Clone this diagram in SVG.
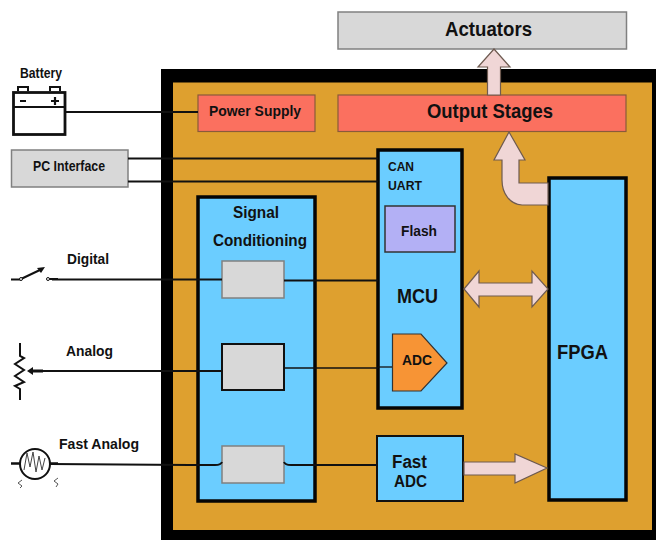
<svg xmlns="http://www.w3.org/2000/svg" width="656" height="540" viewBox="0 0 656 540">
<style>
text{font-family:"Liberation Sans",Arial,sans-serif;font-weight:bold;fill:#111;text-anchor:middle}
.w{fill:none;stroke:#111;stroke-width:2}
.gb{fill:#d8d8d8;stroke:#808080;stroke-width:1.5}
.blue{fill:#6bcdff;stroke:#050505;stroke-width:3.5}
.red{fill:#fb705f;stroke:#8a5a3a;stroke-width:1.2}
.ar{fill:#f0d6d6;stroke:#6e5a50;stroke-width:1.2}
</style>
<rect width="656" height="540" fill="#fff"/>
<g id="board"><rect x="161" y="69" width="495" height="471" fill="#000"/><rect x="173" y="82.500" width="479" height="447.500" fill="#dea02f"/></g>
<g id="actuators"><rect class="gb" x="338" y="12" width="288.500" height="37"/><text x="488.500" y="36" font-size="20.500" textLength="87" lengthAdjust="spacingAndGlyphs">Actuators</text></g>
<g id="output-stages"><rect class="red" x="338" y="95" width="288" height="36.500"/><text x="490" y="118" font-size="20" textLength="126" lengthAdjust="spacingAndGlyphs">Output Stages</text></g>
<g id="power-supply"><rect class="red" x="198" y="95" width="117" height="36.500"/><text x="255" y="116" font-size="14.500" textLength="92" lengthAdjust="spacingAndGlyphs">Power Supply</text></g>
<g id="battery">
<text x="41" y="78" font-size="14" textLength="42" lengthAdjust="spacingAndGlyphs">Battery</text>
<path d="M18 91V87H28V91M50 91V87H60V91" fill="#fff" stroke="#111" stroke-width="2"/>
<rect x="13.500" y="92.500" width="51.500" height="42" fill="#fff" stroke="#111" stroke-width="2.800"/>
<path d="M13.500 107H65" stroke="#111" stroke-width="2"/>
<path d="M20 101H26M51 101H59M55 97V105" stroke="#111" stroke-width="2.200" fill="none"/>
</g>
<g id="pc-interface"><rect class="gb" x="11.500" y="150" width="116.500" height="37"/><text x="69" y="171" font-size="14.500" textLength="72" lengthAdjust="spacingAndGlyphs">PC Interface</text></g>
<g id="digital-switch">
<text x="88" y="264" font-size="15" textLength="42" lengthAdjust="spacingAndGlyphs">Digital</text>
<path d="M11 279.500H21M21 279L42 269M48 279H58" stroke="#111" stroke-width="2" fill="none"/>
<path d="M37 268L45 267L41 273Z" fill="#111"/>
<circle cx="21" cy="279" r="1.500" fill="#fff" stroke="#111"/><circle cx="48" cy="279" r="1.500" fill="#fff" stroke="#111"/>
</g>
<g id="analog-pot">
<text x="89.500" y="356" font-size="15" textLength="47" lengthAdjust="spacingAndGlyphs">Analog</text>
<path d="M20 343V356L24 358L15 364L24 370L15 376L24 382L15 386L20 389V400" fill="none" stroke="#111" stroke-width="2"/>
<path d="M27 371L33 367V375Z" fill="#111"/><path d="M33 371H43" stroke="#111" stroke-width="3"/>
</g>
<g id="fast-analog-source">
<text x="99" y="449" font-size="15" textLength="80" lengthAdjust="spacingAndGlyphs">Fast Analog</text>
<circle cx="35" cy="464" r="15" fill="#fff" stroke="#111" stroke-width="2"/>
<path d="M11 463.500H20M50 463.500H58" stroke="#111" stroke-width="2.500" fill="none"/>
<path d="M24 470L27 453L30 467L33 452L36 472L39 456L42 470L45 458" fill="none" stroke="#444" stroke-width="1"/>
<path d="M22 480L18 483L22 486L20 488M58 478L54 481L58 484L56 487" fill="none" stroke="#555" stroke-width="1"/>
</g>
<g id="signal-conditioning"><rect class="blue" x="198" y="197" width="117" height="304"/><text x="256" y="218" font-size="16" textLength="46" lengthAdjust="spacingAndGlyphs">Signal</text><text x="260" y="246" font-size="16" textLength="94" lengthAdjust="spacingAndGlyphs">Conditioning</text></g>
<g id="mcu"><rect class="blue" x="378" y="150" width="84" height="258"/>
<text x="401" y="171" font-size="13" textLength="26" lengthAdjust="spacingAndGlyphs">CAN</text><text x="405" y="190" font-size="13" textLength="34" lengthAdjust="spacingAndGlyphs">UART</text>
<text x="417.500" y="303" font-size="20.500" textLength="41" lengthAdjust="spacingAndGlyphs">MCU</text></g>
<g id="flash"><rect x="385" y="206" width="70" height="46" fill="#b3b0f5" stroke="#333" stroke-width="1.500"/><text x="419" y="236" font-size="15" textLength="36" lengthAdjust="spacingAndGlyphs">Flash</text></g>
<g id="adc"><path d="M392.500 334H421L447 363L421 391H392.500Z" fill="#f79435" stroke="#333" stroke-width="1.200"/><text x="417" y="365" font-size="15" textLength="30" lengthAdjust="spacingAndGlyphs">ADC</text></g>
<g id="fast-adc"><rect x="377" y="436" width="86" height="65" fill="#6bcdff" stroke="#111" stroke-width="2"/><text x="409.500" y="468" font-size="17.500" textLength="35" lengthAdjust="spacingAndGlyphs">Fast</text><text x="410.500" y="487" font-size="16.500" textLength="33" lengthAdjust="spacingAndGlyphs">ADC</text></g>
<g id="fpga"><rect class="blue" x="549" y="178" width="77" height="322"/><text x="582.500" y="359" font-size="20" textLength="51" lengthAdjust="spacingAndGlyphs">FPGA</text></g>
<g id="cond-1"><rect class="gb" x="222" y="261" width="62" height="37"/></g>
<g id="cond-2"><rect x="222" y="344" width="62" height="46" fill="#d8d8d8" stroke="#111" stroke-width="2"/></g>
<g id="cond-3"><rect class="gb" x="222" y="446" width="62" height="37"/></g>
<g id="connectors">
<path class="w" d="M65 112H198"/>
<path class="w" d="M128 158.500H378M128 181.500H378" style="stroke-width:1.800"/>
<path class="w" d="M52 279.500H222M284 280.500H378"/>
<path class="w" d="M43 371H222"/>
<path class="w" d="M284 368H378" style="stroke-width:1.300"/>
<path class="w" d="M378 367H392" style="stroke-width:1.300"/>
<path class="w" d="M50 464L190 465H215Q221 465 222 462M284 462Q285 465 291 465H378"/>
<path class="ar" d="M487.500 95V67H478L494 49L510 67H500.500V95Z"/>
<path class="ar" d="M548 183H519V160H525L509 132L494 160H502V180C502 194 510 204 522 205H548Z"/>
<path class="ar" d="M464 289L479 271V283H532V271L548 289L532 307V296H479V307Z"/>
<path class="ar" d="M464 462H515V454L547 468L515 483V475H464Z"/>
</g>
</svg>
